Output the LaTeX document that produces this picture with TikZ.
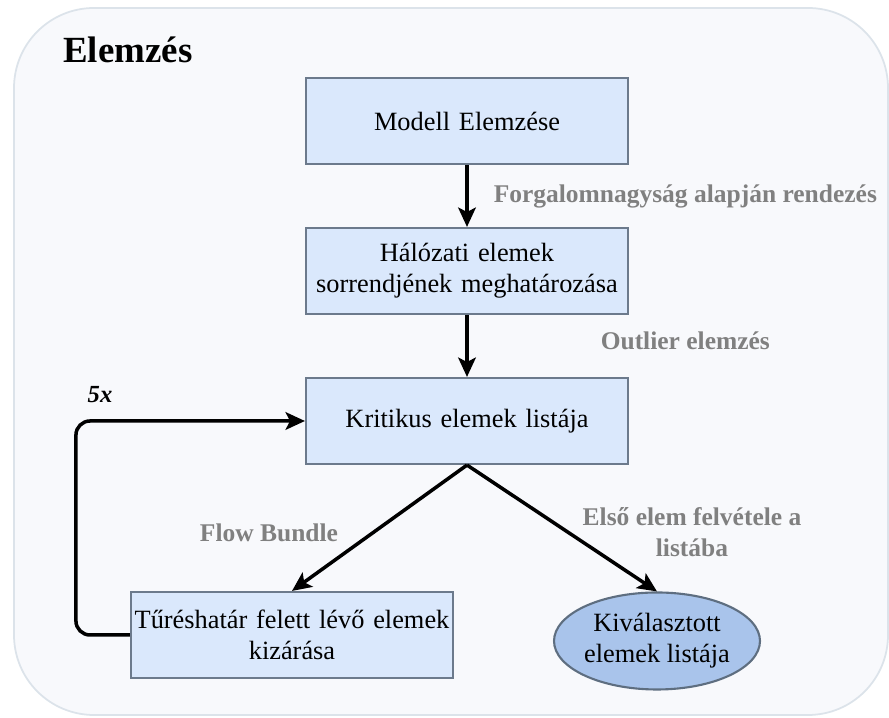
\documentclass[tikz,border=0pt]{standalone}
\usepackage{fontspec}
\setmainfont{LiberationSerif}[Extension=.ttf, UprightFont=*-Regular, BoldFont=*-Bold, ItalicFont=*-Italic, BoldItalicFont=*-BoldItalic]
\usepackage{xcolor}
\usetikzlibrary{arrows.meta,shapes.geometric}

\definecolor{boxfill}{HTML}{DAE8FC}
\definecolor{boxline}{HTML}{6C7A8C}
\definecolor{ovalfill}{HTML}{A9C4EB}
\definecolor{ovalline}{HTML}{5E6E80}
\definecolor{panelfill}{HTML}{F8F9FC}
\definecolor{panelline}{HTML}{DCE3EA}
\definecolor{labgray}{HTML}{808080}

\begin{document}
\begin{tikzpicture}[
  node distance=3cm,
  box/.style={rectangle, draw=boxline, fill=boxfill, line width=1.2pt,
    minimum width=6.44cm, minimum height=1.72cm, text width=6.3cm,
    align=center, inner sep=0pt, font=\fontsize{15}{17.6}\selectfont},
  oval/.style={ellipse, draw=ovalline, fill=ovalfill, line width=1.2pt,
    minimum width=3.94cm, minimum height=1.94cm, inner sep=0pt,
    align=center, font=\fontsize{15}{17.6}\selectfont},
  lab/.style={text=labgray, align=center, inner sep=0pt,
    font=\bfseries\fontsize{14.5}{17.6}\selectfont},
  arr/.style={line width=2pt, -{Stealth[length=11pt,width=10pt,inset=2.5pt]}}
]
\useasboundingbox (0,0) rectangle (17.78,14.36);
\draw[fill=panelfill, draw=panelline, line width=1pt, rounded corners=1.6cm]
  (0.28,0.06) rectangle (17.76,14.2);

\node[anchor=west, inner sep=0pt, font=\bfseries\fontsize{21}{24}\selectfont] (title) at (1.26,13.36) {Elemzés};

\node[box] (1) at (9.34,11.94) {Modell Elemzése};
\node[box] (2) [below of=1] {Hálózati elemek\\ sorrendjének meghatározása};
\node[box] (3) [below of=2] {Kritikus elemek listája};
\node[box] (4) [below of=3, node distance=4.28cm, xshift=-3.5cm] {Tűréshatár felett lévő elemek\\ kizárása};
\node[oval] (5) [below of=3, node distance=4.4cm, xshift=3.8cm] {Kiválasztott\\ elemek listája};

\draw[arr] (1) -- node[lab, anchor=west, xshift=0.5cm] (l12) {Forgalomnagyság alapján rendezés} (2);
\draw[arr] (2) -- node[lab, anchor=west, xshift=2.64cm, yshift=0.1cm] (l23) {Outlier elemzés} (3);
\draw[arr] (3.south) -- (4.north);
\draw[arr] (3.south) -- (5.north);
\draw[arr, rounded corners=8pt] (4.west) -- ++(-1.08,0) |- (3.west);

% labels of the lower branches
\node[lab] (lfb) at (5.38,3.70) {Flow Bundle};
\node[lab] (lsel) at (13.84,3.72) {Első elem felvétele a\\ listába};
\node[inner sep=0pt, font=\bfseries\itshape\fontsize{14}{16}\selectfont] (l5x) at (2.0,6.46) {5x};
\end{tikzpicture}
\end{document}
